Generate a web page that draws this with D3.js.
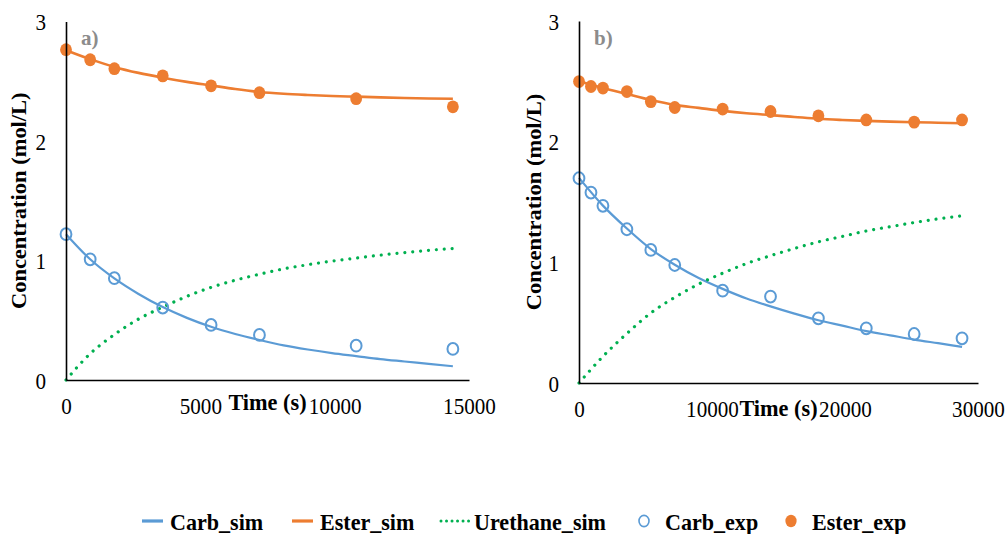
<!DOCTYPE html>
<meta charset="utf-8">
<style>
body { margin: 0; background: #fff; }
</style>
<svg width="1008" height="534"></svg>
<script src="https://cdn.jsdelivr.net/npm/d3@7"></script>
<script>

// panel a)
var simTimeA = [0, 900, 1800, 2700, 3600, 4500, 5400, 6300, 7200, 8100, 9000, 9900, 10800, 11700, 12600, 13500, 14400];
var carbSimA = [1.22, 1.01, 0.85, 0.72, 0.61, 0.52, 0.445, 0.385, 0.335, 0.29, 0.255, 0.225, 0.20, 0.175, 0.155, 0.135, 0.115];
var esterSimA = [2.76, 2.685, 2.62, 2.57, 2.53, 2.495, 2.465, 2.435, 2.41, 2.395, 2.385, 2.377, 2.371, 2.365, 2.36, 2.356, 2.353];
var urethSimA = [0, 0.22, 0.38, 0.51, 0.61, 0.70, 0.775, 0.835, 0.885, 0.93, 0.965, 0.995, 1.02, 1.045, 1.065, 1.085, 1.10];
var expTimeA = [0, 900, 1800, 3600, 5400, 7200, 10800, 14400];
var carbExpA = [1.22, 1.01, 0.852, 0.606, 0.461, 0.377, 0.287, 0.26];
var esterExpA = [2.764, 2.68, 2.605, 2.545, 2.462, 2.404, 2.354, 2.286];

// panel b)
var simTimeB = [0, 1800, 3600, 5400, 7200, 9000, 10800, 12600, 14400, 16200, 18000, 19800, 21600, 23400, 25200, 27000, 28800];
var carbSimB = [1.70, 1.47, 1.28, 1.11, 0.98, 0.87, 0.78, 0.70, 0.635, 0.575, 0.52, 0.475, 0.43, 0.395, 0.36, 0.33, 0.30];
var esterSimB = [2.50, 2.445, 2.395, 2.345, 2.305, 2.28, 2.255, 2.235, 2.22, 2.205, 2.19, 2.18, 2.172, 2.166, 2.161, 2.157, 2.153];
var urethSimB = [0, 0.22, 0.41, 0.58, 0.71, 0.82, 0.91, 0.99, 1.055, 1.115, 1.17, 1.215, 1.26, 1.295, 1.33, 1.36, 1.385];
var expTimeB = [0, 900, 1800, 3600, 5400, 7200, 10800, 14400, 18000, 21600, 25200, 28800];
var carbExpB = [1.697, 1.578, 1.468, 1.274, 1.103, 0.978, 0.765, 0.716, 0.536, 0.453, 0.406, 0.37];
var esterExpB = [2.498, 2.457, 2.444, 2.415, 2.332, 2.283, 2.27, 2.25, 2.214, 2.18, 2.162, 2.18];

var yTicks = [0, 1, 2, 3];
var xTicksA = [0, 5000, 10000, 15000];
var xTicksB = [0, 10000, 20000, 30000];
var legendNames = ["Carb_sim", "Ester_sim", "Urethane_sim", "Carb_exp", "Ester_exp"];

var blue = "#5B9BD5", orange = "#ED7D31", green = "#00B050";
var serif = "'Liberation Serif', 'Times New Roman', serif";
var squeeze = 0.92;   // tick labels are a bit narrower than tall

var svg = d3.select("svg");

function panel(o) {
  var x = d3.scaleLinear().domain(o.xDomain).range(o.xRange),
      y = d3.scaleLinear().domain([0, 3]).range(o.yRange);
  var g = svg.append("g");

  var line = function(ys) {
    return d3.line()
        .x(function(d, i) { return x(o.simT[i]); })
        .y(function(d) { return y(d); })
        .curve(d3.curveMonotoneX)(ys);
  };

  g.append("path").attr("d", line(o.carbSim))
      .attr("fill", "none").attr("stroke", blue).attr("stroke-width", 2.2);
  g.append("path").attr("d", line(o.esterSim))
      .attr("fill", "none").attr("stroke", orange).attr("stroke-width", 2.6);
  g.append("path").attr("d", line(o.urethSim))
      .attr("fill", "none").attr("stroke", green).attr("stroke-width", 3.2)
      .attr("stroke-linecap", "round").attr("stroke-dasharray", "0.01 7.9");

  g.selectAll(".carbexp").data(o.carbExp).enter().append("ellipse")
      .attr("cx", function(d, i) { return x(o.expT[i]); })
      .attr("cy", function(d) { return y(d); })
      .attr("rx", 5.4).attr("ry", 5.9)
      .attr("fill", "none").attr("stroke", blue).attr("stroke-width", 2);
  g.selectAll(".esterexp").data(o.esterExp).enter().append("ellipse")
      .attr("cx", function(d, i) { return x(o.expT[i]); })
      .attr("cy", function(d) { return y(d); })
      .attr("rx", 5.9).attr("ry", 6.4)
      .attr("fill", orange);

  var ya = g.append("g")
      .attr("transform", "translate(" + o.xRange[0] + ",0)")
      .call(d3.axisLeft(y).tickValues(yTicks).tickSize(0).tickPadding(20).tickFormat(d3.format("d")));
  var xa = g.append("g")
      .attr("transform", "translate(0," + o.yRange[0] + ")")
      .call(d3.axisBottom(x).tickValues(o.xTicks).tickSize(0).tickPadding(18).tickFormat(d3.format("d")));

  [ya, xa].forEach(function(a) {
    a.select(".domain").attr("stroke", "#000").attr("stroke-width", 1.6);
    a.selectAll("text")
        .attr("font-family", serif).attr("font-size", 23).attr("fill", "#000")
        .attr("x", function() { return (+d3.select(this).attr("x") || 0) / squeeze; })
        .attr("transform", "scale(" + squeeze + ",1)");
  });
  ya.selectAll("text").attr("dy", "0.36em");

  svg.append("text")
      .attr("transform", "translate(" + (o.xRange[0] + o.xRange[1]) / 2 + "," + o.xTitleY + ") scale(0.97,1)")
      .attr("text-anchor", "middle").attr("font-family", serif)
      .attr("font-weight", "bold").attr("font-size", 23)
      .text("Time (s)");
  svg.append("text")
      .attr("transform", "translate(" + o.yTitleX + "," + (o.yRange[0] + o.yRange[1]) / 2 + ") scale(0.9,1) rotate(-90)")
      .attr("text-anchor", "middle").attr("font-family", serif)
      .attr("font-weight", "bold").attr("font-size", 22.5)
      .text("Concentration (mol/L)");
  svg.append("text")
      .attr("transform", "translate(" + (o.xRange[0] + 15) + ",45)")
      .attr("font-family", serif)
      .attr("font-weight", "bold").attr("font-size", 21).attr("fill", "#8c8c8c")
      .text(o.tag);
}

panel({
  xDomain: [0, 15000], xRange: [66, 469], yRange: [380, 21.5],
  simT: simTimeA, carbSim: carbSimA, esterSim: esterSimA, urethSim: urethSimA,
  expT: expTimeA, carbExp: carbExpA, esterExp: esterExpA,
  xTicks: xTicksA, xTitleY: 410, yTitleX: 26, tag: "a)"
});
panel({
  xDomain: [0, 30000], xRange: [579, 978], yRange: [383, 21],
  simT: simTimeB, carbSim: carbSimB, esterSim: esterSimB, urethSim: urethSimB,
  expT: expTimeB, carbExp: carbExpB, esterExp: esterExpB,
  xTicks: xTicksB, xTitleY: 416, yTitleX: 541, tag: "b)"
});

// legend
var legendX = [142, 292, 440, 644, 791];
var lg = svg.append("g").attr("transform", "translate(0,521)");
var item = lg.selectAll("g").data(legendNames).enter().append("g")
    .attr("transform", function(d, i) { return "translate(" + legendX[i] + ",0)"; });
item.each(function(d, i) {
  var s = d3.select(this);
  if (i < 2) {
    s.append("line").attr("x1", 0).attr("x2", 21).attr("y1", 0).attr("y2", 0)
        .attr("stroke", i == 0 ? blue : orange).attr("stroke-width", 3.2);
  } else if (i == 2) {
    s.append("line").attr("x1", 1).attr("x2", 29).attr("y1", 0).attr("y2", 0)
        .attr("stroke", green).attr("stroke-width", 3).attr("stroke-linecap", "round")
        .attr("stroke-dasharray", "0.01 5.5");
  } else if (i == 3) {
    s.append("ellipse").attr("rx", 5).attr("ry", 5.6)
        .attr("fill", "none").attr("stroke", blue).attr("stroke-width", 1.6);
  } else {
    s.append("ellipse").attr("rx", 5.6).attr("ry", 6.2).attr("fill", orange);
  }
  var tx = i < 2 ? 28 : (i == 2 ? 34 : 21);
  s.append("text")
      .attr("transform", "translate(" + tx + ",9) scale(0.96,1)")
      .attr("font-family", serif)
      .attr("font-weight", "bold").attr("font-size", 23)
      .text(d);
});

</script>
